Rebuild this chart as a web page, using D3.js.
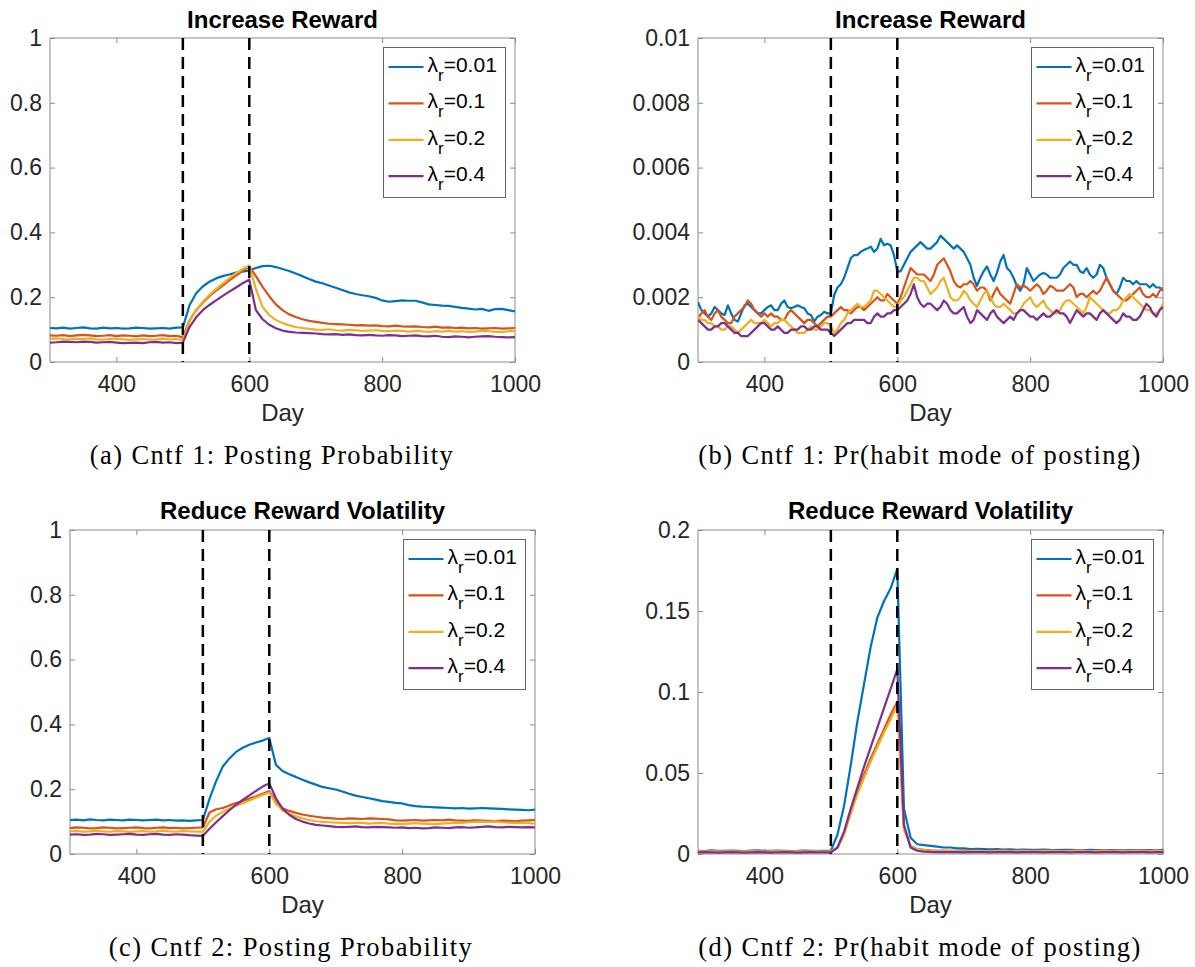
<!DOCTYPE html>
<head>
<meta charset="utf-8">
<title>Counterfactuals</title>
<script src="https://d3js.org/d3.v7.min.js"></script>
<style>
  body { margin: 0; background: #fff; }
  text { font-family: "Liberation Sans", Arial, Helvetica, sans-serif; }
</style>
</head>
<body>
<div id="fig"></div>
<script>

// x values
var days10 = d3.range(300, 1001, 10);
var days5 = d3.range(300, 1001, 5);

var lambdas = ["0.01", "0.1", "0.2", "0.4"];
var colors = ["#0072BD", "#D95319", "#EDB120", "#7E2F8E"];
var xTicks = [400, 600, 800, 1000];
var yTicksProb = [0, 0.2, 0.4, 0.6, 0.8, 1];
var yTicksHabit1 = [0, 0.002, 0.004, 0.006, 0.008, 0.01];
var yTicksHabit2 = [0, 0.05, 0.1, 0.15, 0.2];

// (a) Cntf 1: posting probability, every 10 days
var aBlue = [.105,.104,.106,.103,.105,.107,.104,.103,.106,.104,
  .105,.103,.104,.106,.105,.103,.104,.105,.103,.106,
  .107,.175,.212,.233,.248,.258,.265,.270,.276,.279,
  .283,.290,.296,.297,.293,.287,.281,.273,.265,.256,
  .248,.243,.236,.229,.222,.215,.210,.206,.203,.198,
  .190,.186,.188,.190,.189,.189,.184,.178,.176,.174,
  .173,.170,.167,.165,.162,.164,.158,.163,.164,.160,
  .156];
var aOrange = [.082,.081,.083,.080,.082,.084,.082,.080,.081,.083,
  .080,.082,.081,.079,.082,.080,.081,.083,.080,.081,
  .076,.128,.160,.183,.203,.220,.236,.252,.267,.281,
  .295,.265,.232,.203,.178,.160,.147,.139,.132,.127,
  .124,.121,.118,.117,.116,.115,.113,.114,.112,.113,
  .111,.110,.112,.110,.109,.110,.108,.107,.109,.106,
  .107,.105,.106,.104,.105,.103,.104,.105,.103,.104,
  .105];
var aYellow = [.072,.073,.071,.070,.072,.071,.073,.070,.069,.071,
  .072,.070,.068,.070,.071,.069,.070,.072,.070,.071,
  .068,.125,.160,.186,.207,.225,.242,.259,.274,.287,
  .298,.225,.170,.145,.130,.120,.113,.108,.105,.102,
  .100,.099,.101,.098,.097,.099,.098,.096,.097,.098,
  .096,.095,.097,.096,.094,.096,.095,.093,.095,.094,
  .096,.094,.095,.093,.094,.096,.095,.093,.092,.095,
  .096];
var aPurple = [.060,.061,.063,.062,.061,.063,.062,.060,.061,.062,
  .060,.058,.059,.060,.058,.061,.062,.060,.061,.058,
  .060,.108,.138,.160,.176,.190,.204,.217,.230,.243,
  .254,.160,.132,.115,.104,.097,.093,.091,.090,.089,
  .088,.086,.085,.086,.084,.085,.083,.082,.084,.082,
  .081,.083,.082,.080,.081,.082,.080,.079,.081,.078,
  .077,.079,.078,.076,.078,.079,.080,.078,.077,.076,
  .077];

// (b) Cntf 1: Pr(habit mode), every 5 days
var bBlue = [.00185,.0016,.0015,.0014,.0015,.0017,.0016,.0015,.00145,.00175,
  .0015,.0013,.00125,.0015,.00175,.0018,.0017,.0016,.0015,.0015,
  .0016,.0017,.00175,.0016,.0016,.0018,.0019,.0017,.00166,.0017,
  .00175,.0017,.00166,.0015,.00145,.00125,.0014,.00145,.00155,.0015,
  .0015,.00207,.0023,.0024,.0026,.0029,.0032,.0033,.0033,.0034,
  .00346,.0035,.00356,.0034,.0035,.0038,.0036,.00365,.0036,.0033,
  .0028,.0028,.0030,.0032,.0034,.0035,.0036,.0037,.0036,.0035,
  .0035,.0036,.0037,.0039,.0038,.0037,.0036,.0035,.0036,.0035,
  .0034,.0032,.0030,.0026,.00235,.0026,.0028,.00295,.0027,.0025,
  .00275,.0031,.0033,.0029,.0028,.0026,.00235,.0022,.0024,.0029,
  .0027,.0025,.0026,.0027,.00275,.0027,.0026,.0026,.0026,.0027,
  .0029,.0030,.0031,.0030,.0030,.0028,.00275,.0029,.0027,.0026,
  .0027,.0030,.0029,.0026,.0024,.0022,.0021,.0023,.0026,.0025,
  .0025,.0024,.0025,.0024,.0024,.0024,.0023,.0024,.0023,.0023,
  .0022];
var bOrange = [.00135,.0015,.0016,.0014,.0013,.0015,.0016,.0014,.0013,.0012,
  .0012,.0014,.0015,.0016,.0017,.0019,.0018,.0016,.0015,.0014,
  .0015,.0014,.0015,.0014,.0014,.0013,.0013,.0015,.0016,.0015,
  .0014,.0013,.0012,.0013,.0013,.0012,.0011,.0012,.0013,.0014,
  .0014,.0015,.0016,.0017,.0016,.0016,.0015,.0016,.0017,.0017,
  .0016,.0017,.0018,.0019,.0020,.0019,.0019,.0021,.0020,.0019,
  .0018,.0020,.0023,.0026,.0029,.0028,.0027,.0027,.0027,.0026,
  .0025,.0027,.0030,.0031,.0032,.0030,.0028,.0025,.00235,.0023,
  .0024,.0024,.0025,.0024,.0022,.0023,.0023,.0022,.0019,.0021,
  .0023,.0021,.0020,.0019,.0018,.0021,.0024,.0023,.00235,.0023,
  .0022,.0023,.0024,.0023,.0021,.0022,.00235,.0023,.0022,.0022,
  .0022,.0023,.0024,.0023,.0020,.0021,.0021,.0020,.0021,.0022,
  .0021,.0022,.0024,.0026,.0024,.0022,.0021,.0020,.0019,.0019,
  .0020,.0021,.0022,.0023,.0021,.0020,.0020,.0021,.0020,.0022,
  .0023];
var bYellow = [.0014,.0013,.0013,.0012,.0012,.0011,.0011,.0010,.0010,.0011,
  .0011,.0010,.0009,.0010,.0011,.0012,.0013,.0012,.0012,.0012,
  .0013,.0012,.0011,.0012,.0012,.0013,.0013,.0012,.0011,.0010,
  .0009,.0009,.0009,.0010,.0011,.0010,.0010,.0011,.0012,.0012,
  .0011,.0009,.0010,.0012,.0013,.0015,.0016,.0017,.0018,.0017,
  .0017,.0018,.0019,.0022,.0022,.0021,.0020,.0019,.0018,.0017,
  .0017,.0019,.0020,.0022,.0024,.0026,.0026,.0025,.0025,.0023,
  .0021,.0022,.0023,.0025,.0026,.0023,.0020,.0019,.0019,.0020,
  .0022,.0021,.0019,.0018,.0017,.0019,.0021,.0022,.0020,.0018,
  .0017,.0017,.0018,.0017,.0016,.0015,.0015,.0016,.0018,.0019,
  .0020,.0018,.0017,.0018,.0019,.0017,.0016,.0015,.0015,.0016,
  .0018,.0019,.0019,.0018,.0017,.0016,.0015,.0017,.0020,.0019,
  .0018,.0017,.0016,.0015,.0015,.0016,.0016,.0017,.0019,.0020,
  .0021,.0020,.0019,.0018,.0017,.0016,.0016,.0015,.0015,.0016,
  .0018];
var bPurple = [.0013,.0012,.0011,.0010,.0010,.0011,.0011,.0012,.0012,.0011,
  .0010,.0009,.0009,.0008,.0008,.0008,.0009,.0010,.0011,.0012,
  .0012,.0011,.0010,.0010,.0011,.0010,.0009,.0009,.0010,.0010,
  .0010,.0011,.0011,.0010,.0010,.0011,.0011,.0010,.0010,.0010,
  .0009,.0008,.0009,.0010,.0011,.0012,.0012,.0013,.0013,.0013,
  .0013,.0012,.0012,.0014,.0015,.0014,.0014,.0015,.0015,.0016,
  .0016,.0017,.0018,.0019,.0021,.0024,.0020,.0018,.0017,.0018,
  .0018,.0017,.0016,.0017,.0019,.0018,.0016,.0015,.0015,.0016,
  .0017,.0014,.0012,.0013,.0016,.0015,.0014,.0013,.0015,.0016,
  .0014,.0013,.0012,.0013,.0014,.0013,.0015,.0016,.0016,.0015,
  .0014,.0014,.0013,.0014,.0015,.0014,.0014,.0015,.0016,.0015,
  .0015,.0014,.0012,.0014,.0016,.0015,.0014,.0015,.0015,.0014,
  .0013,.0015,.0016,.0015,.0014,.0013,.0012,.0013,.0015,.0014,
  .0014,.0013,.0013,.0014,.0016,.0018,.0017,.0015,.0014,.0016,
  .0017];

// (c) Cntf 2: posting probability, every 10 days
var cBlue = [.105,.106,.104,.107,.105,.104,.106,.105,.104,.106,
  .105,.104,.105,.106,.104,.105,.103,.104,.102,.104,
  .105,.170,.225,.270,.295,.315,.328,.337,.344,.350,
  .358,.275,.256,.246,.238,.229,.221,.214,.207,.203,
  .199,.193,.186,.180,.176,.172,.168,.163,.161,.158,
  .156,.151,.148,.146,.145,.144,.143,.142,.141,.142,
  .140,.141,.142,.141,.140,.139,.138,.137,.136,.135,
  .137];
var cOrange = [.080,.082,.081,.079,.080,.082,.081,.079,.080,.081,
  .082,.080,.079,.081,.082,.080,.081,.079,.080,.081,
  .082,.128,.138,.142,.150,.157,.163,.171,.178,.186,
  .194,.160,.141,.133,.127,.122,.118,.115,.112,.111,
  .109,.108,.110,.109,.108,.110,.109,.108,.107,.104,
  .103,.104,.105,.103,.104,.105,.104,.106,.104,.103,
  .102,.104,.103,.102,.101,.103,.102,.101,.103,.104,
  .105];
var cYellow = [.070,.071,.069,.070,.072,.070,.069,.071,.070,.068,
  .070,.071,.069,.070,.072,.070,.069,.071,.070,.069,
  .068,.100,.118,.130,.140,.149,.157,.165,.174,.182,
  .190,.155,.135,.124,.116,.110,.105,.101,.099,.098,
  .097,.096,.095,.097,.096,.094,.095,.096,.094,.093,
  .092,.094,.095,.094,.093,.092,.094,.095,.097,.096,
  .098,.099,.100,.099,.100,.098,.097,.096,.097,.095,
  .094];
var cPurple = [.060,.061,.059,.060,.062,.061,.059,.060,.061,.062,
  .060,.059,.061,.062,.060,.059,.061,.060,.058,.057,
  .056,.078,.098,.117,.135,.152,.167,.181,.195,.208,
  .218,.172,.140,.121,.108,.100,.094,.090,.088,.086,
  .084,.083,.084,.085,.083,.082,.084,.083,.082,.081,
  .082,.080,.081,.079,.080,.082,.081,.080,.082,.083,
  .081,.082,.084,.085,.083,.082,.084,.083,.082,.083,
  .082];

// (d) Cntf 2: Pr(habit mode), every 10 days
var dBlue = [.0020,.0018,.0022,.0020,.0019,.0021,.0020,.0018,.0021,.0022,
  .0020,.0019,.0021,.0020,.0018,.0019,.0021,.0020,.0019,.0020,
  .0020,.0120,.0300,.0550,.0820,.1050,.1280,.1460,.1560,.1640,
  .1760,.0280,.0100,.0060,.0055,.0050,.0045,.0040,.0040,.0035,
  .0035,.0030,.0032,.0030,.0028,.0030,.0027,.0028,.0026,.0027,
  .0025,.0026,.0027,.0025,.0024,.0025,.0026,.0024,.0023,.0025,
  .0024,.0023,.0024,.0022,.0023,.0024,.0022,.0023,.0024,.0022,
  .0025];
var dOrange = [.0015,.0016,.0014,.0015,.0016,.0015,.0014,.0015,.0016,.0015,
  .0014,.0015,.0016,.0015,.0014,.0015,.0016,.0015,.0014,.0015,
  .0015,.0040,.0130,.0260,.0380,.0490,.0590,.0680,.0770,.0860,
  .0940,.0160,.0050,.0030,.0025,.0022,.0020,.0021,.0019,.0020,
  .0021,.0019,.0020,.0018,.0020,.0019,.0021,.0020,.0019,.0018,
  .0020,.0021,.0019,.0020,.0018,.0019,.0020,.0021,.0019,.0018,
  .0020,.0019,.0021,.0020,.0019,.0018,.0020,.0019,.0020,.0021,
  .0020];
var dYellow = [.0016,.0015,.0016,.0017,.0015,.0016,.0015,.0016,.0017,.0016,
  .0015,.0016,.0017,.0016,.0015,.0016,.0015,.0017,.0016,.0015,
  .0016,.0040,.0120,.0250,.0370,.0470,.0570,.0660,.0750,.0830,
  .0920,.0150,.0050,.0030,.0024,.0020,.0019,.0018,.0019,.0018,
  .0017,.0018,.0019,.0018,.0017,.0018,.0019,.0017,.0018,.0019,
  .0018,.0017,.0018,.0019,.0018,.0017,.0018,.0019,.0018,.0017,
  .0018,.0019,.0018,.0017,.0018,.0019,.0018,.0017,.0018,.0019,
  .0018];
var dPurple = [.0010,.0011,.0010,.0009,.0010,.0011,.0010,.0009,.0010,.0011,
  .0010,.0009,.0010,.0011,.0010,.0009,.0010,.0011,.0010,.0010,
  .0010,.0040,.0140,.0280,.0410,.0540,.0660,.0780,.0900,.1020,
  .1140,.0180,.0040,.0020,.0015,.0013,.0012,.0011,.0012,.0011,
  .0010,.0011,.0012,.0011,.0010,.0011,.0012,.0011,.0010,.0011,
  .0012,.0011,.0010,.0011,.0012,.0011,.0010,.0011,.0012,.0011,
  .0010,.0011,.0012,.0011,.0010,.0011,.0012,.0011,.0010,.0011,
  .0012];

var panels = [
  {left: 50, top: 38, title: "Increase Reward", caption: "(a) Cntf 1: Posting Probability", capX: 272,
   days: days10, series: [aBlue, aOrange, aYellow, aPurple], yMax: 1, yTicks: yTicksProb},
  {left: 698, top: 38, title: "Increase Reward", caption: "(b) Cntf 1: Pr(habit mode of posting)", capX: 920,
   days: days5, series: [bBlue, bOrange, bYellow, bPurple], yMax: 0.01, yTicks: yTicksHabit1},
  {left: 70, top: 530, title: "Reduce Reward Volatility", caption: "(c) Cntf 2: Posting Probability", capX: 291,
   days: days10, series: [cBlue, cOrange, cYellow, cPurple], yMax: 1, yTicks: yTicksProb},
  {left: 698, top: 530, title: "Reduce Reward Volatility", caption: "(d) Cntf 2: Pr(habit mode of posting)", capX: 920,
   days: days10, series: [dBlue, dOrange, dYellow, dPurple], yMax: 0.2, yTicks: yTicksHabit2}
];

var width = 465, height = 324;
var fmt = d3.format("~g");

var svg = d3.select("#fig")
  .append("svg")
    .attr("width", 1195)
    .attr("height", 967);

panels.forEach(function(p, i) {
  var g = svg.append("g")
    .attr("transform", "translate(" + p.left + "," + p.top + ")");

  var x = d3.scaleLinear().domain([300, 1000]).range([0, width]);
  var y = d3.scaleLinear().domain([0, p.yMax]).range([height, 0]);

  g.append("clipPath").attr("id", "clip" + i)
    .append("rect").attr("width", width).attr("height", height);

  // axes with inward ticks on all four sides
  g.append("g")
    .attr("transform", "translate(0," + height + ")")
    .call(d3.axisBottom(x).tickValues(xTicks).tickFormat(d3.format("d"))
      .tickSizeInner(-5).tickSizeOuter(0).tickPadding(14));
  g.append("g")
    .call(d3.axisLeft(y).tickValues(p.yTicks).tickFormat(fmt)
      .tickSizeInner(-5).tickSizeOuter(0).tickPadding(8));
  g.append("g")
    .call(d3.axisTop(x).tickValues(xTicks).tickFormat("").tickSizeInner(-5).tickSizeOuter(0));
  g.append("g")
    .attr("transform", "translate(" + width + ",0)")
    .call(d3.axisRight(y).tickValues(p.yTicks).tickFormat("").tickSizeInner(-5).tickSizeOuter(0));

  g.selectAll(".domain").remove();
  g.selectAll(".tick line").attr("stroke", "#8c8c8c");
  g.selectAll(".tick text")
    .attr("fill", "#262626")
    .style("font-size", "23px")
    .style("font-family", "'Liberation Sans', Arial, sans-serif");

  g.append("rect")
    .attr("width", width)
    .attr("height", height)
    .attr("fill", "none")
    .attr("stroke", "#8c8c8c")
    .attr("stroke-width", 1);

  // lines
  var line = d3.line()
    .x(function(d) { return x(d[0]); })
    .y(function(d) { return y(d[1]); });

  var plot = g.append("g").attr("clip-path", "url(#clip" + i + ")");
  p.series.forEach(function(vals, k) {
    plot.append("path")
      .datum(p.days.map(function(dd, j) { return [dd, vals[j]]; }))
      .attr("fill", "none")
      .attr("stroke", colors[k])
      .attr("stroke-width", 2.2)
      .attr("stroke-linejoin", "round")
      .attr("d", line);
  });

  // intervention window
  [500, 600].forEach(function(v) {
    g.append("line")
      .attr("x1", x(v)).attr("x2", x(v))
      .attr("y1", 0).attr("y2", height)
      .attr("stroke", "#000")
      .attr("stroke-width", 2.5)
      .attr("stroke-dasharray", "12,7");
  });

  // title, axis label, caption
  g.append("text")
    .attr("x", width / 2)
    .attr("y", p.title == "Increase Reward" ? -10 : -11)
    .attr("text-anchor", "middle")
    .style("font-size", "24px")
    .style("font-weight", "bold")
    .attr("fill", "#000")
    .text(p.title);

  g.append("text")
    .attr("x", width / 2)
    .attr("y", height + 59)
    .attr("text-anchor", "middle")
    .style("font-size", "24px")
    .attr("fill", "#262626")
    .text("Day");

  svg.append("text")
    .attr("x", p.capX)
    .attr("y", p.top + height + 102)
    .attr("text-anchor", "middle")
    .style("font-family", "'Liberation Serif', 'Times New Roman', serif")
    .style("font-size", "26.5px")
    .style("letter-spacing", "1.4px")
    .attr("fill", "#000")
    .text(p.caption);

  // legend
  var lg = g.append("g")
    .attr("transform", "translate(" + (width - 9.5 - 122) + ",9.5)");
  lg.append("rect")
    .attr("width", 122)
    .attr("height", 150)
    .attr("fill", "#fff")
    .attr("stroke", "#666")
    .attr("stroke-width", 1);
  lambdas.forEach(function(lam, k) {
    var ly = 19.5 + k * 36.4;
    lg.append("line")
      .attr("x1", 5).attr("x2", 40)
      .attr("y1", ly).attr("y2", ly)
      .attr("stroke", colors[k])
      .attr("stroke-width", 2.2);
    var t = lg.append("text")
      .attr("x", 44)
      .attr("y", ly + 5)
      .attr("fill", "#000")
      .style("font-size", "21px");
    t.append("tspan").text("λ");
    t.append("tspan").attr("dy", 9).style("font-size", "17px").text("r");
    t.append("tspan").attr("dy", -9).text("=" + lam);
  });
});

</script>
</body>
